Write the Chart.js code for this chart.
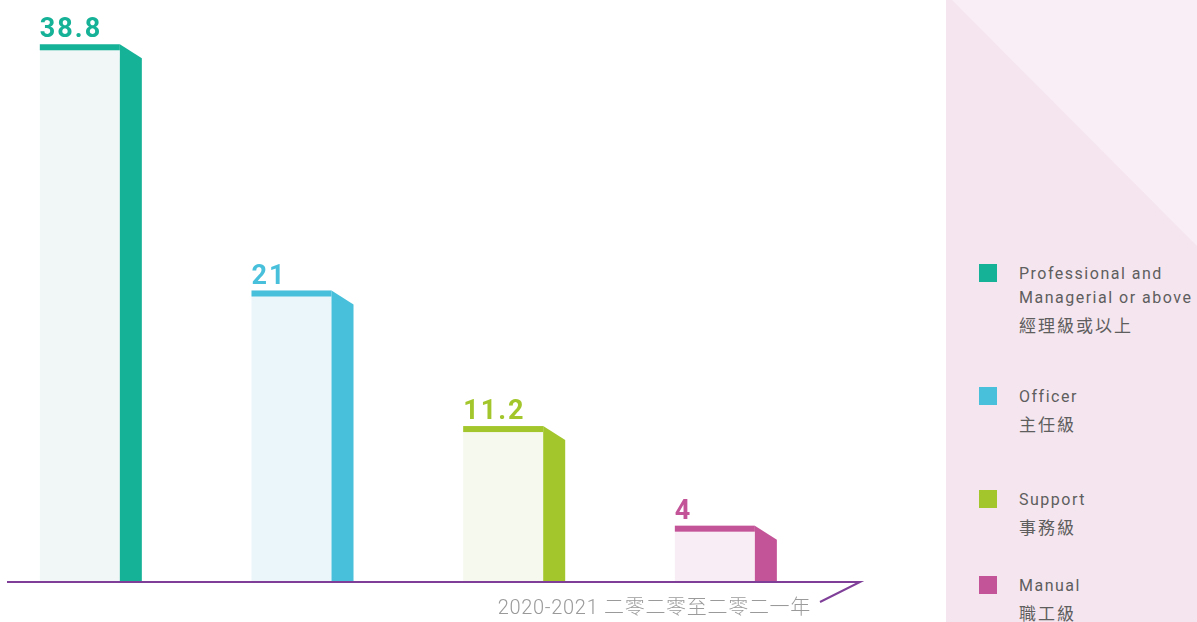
<!DOCTYPE html>
<html>
<head>
<meta charset="utf-8">
<script src="https://cdn.jsdelivr.net/npm/chart.js@4/dist/chart.umd.min.js"></script>
<style>
    html, body { margin: 0; padding: 0; background: #fff; overflow: hidden; }
    body { width: 1197px; height: 622px; position: relative; font-family: Roboto, "Noto Sans CJK TC", sans-serif; }
    .chart-wrap { position: absolute; left: -26px; top: 0; width: 972px; height: 622px; }
    .side-panel { position: absolute; left: 946px; top: 0; width: 251px; height: 622px; background: #f5e5ef; }
    .side-panel::before {
        content: ''; position: absolute; left: 0; top: 0; width: 100%; height: 100%;
        background: #f9eef6;
        clip-path: polygon(6px 0, 100% 0, 100% 246px);
    }
    .legend-item { position: absolute; left: 33px; }
    .legend-item .box { position: absolute; left: 0; top: 0; width: 18px; height: 18px; }
    .legend-item .en { position: absolute; left: 40px; top: -2px; width: 220px; color: #5e5e5e; font-size: 16px; letter-spacing: 1.5px; line-height: 24px; white-space: nowrap; }
    .legend-item .zh { display: block; font-family: "Noto Sans CJK TC", sans-serif; font-size: 17px; letter-spacing: 2px; line-height: 30px; }
</style>
</head>
<body>
<div class="chart-wrap"><canvas id="bar" width="972" height="622"></canvas></div>
<div class="side-panel" id="legend"></div>
<script>
// 資料
const categories = ['Professional and Managerial or above', 'Officer', 'Support', 'Manual'];
const categoriesZh = ['經理級或以上', '主任級', '事務級', '職工級'];
const values = [38.8, 21, 11.2, 4];
const valueLabels = ['38.8', '21', '11.2', '4'];
const yearLabel = '2020-2021 二零二零至二零二一年';

const mainColor = ['#16b298', '#48c0dc', '#a2c62b', '#c35498'];
const faceColor = ['#f0f7f6', '#eaf6f9', '#f5f9ee', '#f9edf5'];

// 圖例
const legendTop = [264, 387, 490, 576];
const enLines = [['Professional and', 'Managerial or above'], ['Officer'], ['Support'], ['Manual']];
let legendHtml = '';
categories.forEach((c, i) => {
    legendHtml += '<div class="legend-item" style="top:' + legendTop[i] + 'px">'
        + '<div class="box" style="background:' + mainColor[i] + '"></div>'
        + '<div class="en">' + enLines[i].join('<br>') + '<span class="zh">' + categoriesZh[i] + '</span></div>'
        + '</div>';
});
document.getElementById('legend').innerHTML = legendHtml;

// 立體長條 + 底線
const solidBars = {
    id: 'solidBars',
    afterDatasetsDraw(chart) {
        const ctx = chart.ctx;
        const meta = chart.getDatasetMeta(0);
        const sideW = 22, sideDrop = 14, stripe = 6;
        ctx.save();
        meta.data.forEach((bar, i) => {
            const left = bar.x - bar.width / 2;
            const right = bar.x + bar.width / 2;
            ctx.fillStyle = mainColor[i];
            ctx.fillRect(left, bar.y, bar.width, stripe);
            ctx.beginPath();
            ctx.moveTo(right, bar.y);
            ctx.lineTo(right + sideW, bar.y + sideDrop);
            ctx.lineTo(right + sideW, bar.base);
            ctx.lineTo(right, bar.base);
            ctx.closePath();
            ctx.fill();
            ctx.font = 'bold 27px Roboto';
            ctx.letterSpacing = '2px';
            ctx.textAlign = 'left';
            ctx.textBaseline = 'alphabetic';
            ctx.fillText(valueLabels[i], left, bar.y - 7);
        });
        // 底線
        const base = meta.data[0].base;
        const area = chart.chartArea;
        ctx.strokeStyle = '#7f3f98';
        ctx.lineWidth = 2;
        ctx.beginPath();
        ctx.moveTo(area.left + 33, base + 1);
        ctx.lineTo(area.left + 886, base + 1);
        ctx.lineTo(area.left + 846, base + 21);
        ctx.stroke();
        ctx.letterSpacing = '0.7px';
        ctx.font = '300 20px Roboto, "Noto Sans CJK TC"';
        ctx.fillStyle = '#9a9a9a';
        ctx.textAlign = 'right';
        ctx.fillText(yearLabel, area.left + 837, base + 33);
        ctx.restore();
    }
};

new Chart(document.getElementById('bar'), {
    type: 'bar',
    data: {
        labels: categories,
        datasets: [{
            data: values,
            backgroundColor: faceColor,
            borderWidth: 0,
            categoryPercentage: 1,
            barPercentage: 0.378
        }]
    },
    options: {
        responsive: false,
        animation: false,
        devicePixelRatio: 1,
        layout: { padding: { top: 0, bottom: 41, left: 0, right: 125.3 } },
        plugins: { legend: { display: false }, tooltip: { enabled: false } },
        scales: {
            x: { display: false },
            y: { display: false, min: 0, max: 42 }
        }
    },
    plugins: [solidBars]
});
</script>
</body>
</html>
